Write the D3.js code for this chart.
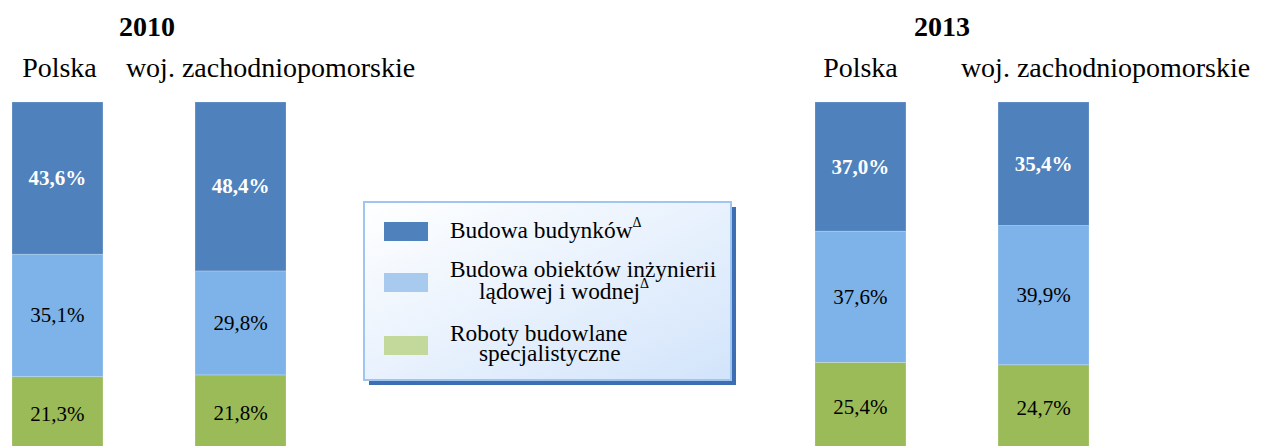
<!DOCTYPE html>
<html>
<head>
<meta charset="utf-8">
<script src="https://cdn.jsdelivr.net/npm/d3@7/dist/d3.min.js"></script>
<style>
  html, body { margin: 0; padding: 0; background: #ffffff; overflow: hidden; }
  svg { display: block; }
  svg text { font-family: "Liberation Serif", "Times New Roman", Times, serif; }
</style>
</head>
<body>
<svg id="chart" width="1261" height="446"></svg>
<script>
// Struktura produkcji budowlano-montażowej według działów (%)
const years = ["2010", "2013"];
const regions = ["Polska", "woj. zachodniopomorskie"];
const seriesNames = [
  "Budowa budynków",
  "Budowa obiektów inżynierii lądowej i wodnej",
  "Roboty budowlane specjalistyczne"
];
// values in order: 2010 Polska, 2010 woj., 2013 Polska, 2013 woj.
const budowaBudynkow = [43.6, 48.4, 37.0, 35.4];
const obiektyInzynierii = [35.1, 29.8, 37.6, 39.9];
const robotySpecjalistyczne = [21.3, 21.8, 25.4, 24.7];

const barColors = ["#4f81bd", "#7db3e8", "#9bbb59"];
const swatchColors = ["#4f81bd", "#a7caee", "#c3d99b"];

const svg = d3.select("#chart");

// rows for stacking
const rows = [];
years.forEach((yr, yi) => regions.forEach((r, ri) => {
  const i = yi * regions.length + ri;
  rows.push({
    year: yr, region: r,
    top: budowaBudynkow[i],
    mid: obiektyInzynierii[i],
    bottom: robotySpecjalistyczne[i]
  });
}));

const keys = ["bottom", "mid", "top"];
const keyColor = { top: barColors[0], mid: barColors[1], bottom: barColors[2] };
const stacked = d3.stack().keys(keys)(rows);

// scales
const xYear = d3.scalePoint().domain(years).range([12, 815]);
const xRegion = d3.scaleBand().domain(regions).range([0, 274]).paddingInner(0.503).paddingOuter(0);
const y = d3.scaleLinear().domain([0, 100]).range([451, 102]);

const barX = d => xYear(d.year) + xRegion(d.region);

// bars
stacked.forEach(layer => {
  const g = svg.append("g");
  g.selectAll("rect").data(layer).join("rect")
    .attr("x", d => barX(d.data))
    .attr("y", d => y(d[1]))
    .attr("width", xRegion.bandwidth())
    .attr("height", d => y(d[0]) - y(d[1]))
    .attr("fill", keyColor[layer.key])
    .attr("stroke", "rgba(255,255,255,0.25)")
    .attr("stroke-width", 0.8);

  g.selectAll("text").data(layer).join("text")
    .attr("x", d => barX(d.data) + xRegion.bandwidth() / 2)
    .attr("y", d => (y(d[0]) + y(d[1])) / 2)
    .attr("text-anchor", "middle")
    .attr("dominant-baseline", "central")
    .attr("font-size", 21)
    .attr("font-weight", layer.key === "top" ? "bold" : "normal")
    .attr("fill", layer.key === "top" ? "#ffffff" : "#000000")
    .text(d => d3.format(".1f")(d.data[layer.key]).replace(".", ",") + "%");
});

// year titles, centred over each pair of bars
const yearShift = { "2010": 0, "2013": -8 };
svg.selectAll("text.year").data(years).join("text")
  .attr("class", "year")
  .attr("x", d => xYear(d) + xRegion.range()[1] / 2 - 2 + yearShift[d])
  .attr("y", 36)
  .attr("text-anchor", "middle")
  .attr("font-size", 28)
  .attr("font-weight", "bold")
  .text(d => d);

// region headers
const headerShift = { "2010": [2, 30], "2013": [0, 62] };
rows.forEach(d => {
  const ri = regions.indexOf(d.region);
  svg.append("text")
    .attr("x", barX(d) + xRegion.bandwidth() / 2 + headerShift[d.year][ri])
    .attr("y", 77)
    .attr("text-anchor", "middle")
    .attr("font-size", 28)
    .text(d.region);
});

// legend
const defs = svg.append("defs");
const grad = defs.append("linearGradient").attr("id", "legendFill")
  .attr("x1", "0%").attr("y1", "0%").attr("x2", "100%").attr("y2", "100%");
grad.append("stop").attr("offset", "0%").attr("stop-color", "#ffffff");
grad.append("stop").attr("offset", "100%").attr("stop-color", "#d2e4fb");

const legend = svg.append("g").attr("transform", "translate(364,202)");
const lw = 367, lh = 178;
legend.append("rect").attr("x", 5).attr("y", 5).attr("width", lw).attr("height", lh).attr("fill", "#3d6db2");
legend.append("rect").attr("x", 0).attr("y", 0).attr("width", lw).attr("height", lh)
  .attr("fill", "url(#legendFill)").attr("stroke", "#9fc6f0").attr("stroke-width", 2);

// each entry is one text element; wrapped lines are tspans
const legendLines = [
  [{ t: "Budowa budynków", sup: true, x: 86, y: 36 }],
  [{ t: "Budowa obiektów inżynierii", sup: false, x: 86, y: 75 },
   { t: "lądowej i wodnej", sup: true, x: 115, y: 96.5 }],
  [{ t: "Roboty budowlane", sup: false, x: 86, y: 138.5 },
   { t: "specjalistyczne", sup: false, x: 115, y: 159 }]
];
const swatchY = [20, 71, 134];

seriesNames.forEach((name, i) => {
  legend.append("rect")
    .attr("x", 20).attr("y", swatchY[i])
    .attr("width", 44).attr("height", 19)
    .attr("fill", swatchColors[i]);
  const t = legend.append("text")
    .attr("font-size", 23.4)
    .attr("fill", "#000");
  legendLines[i].forEach(l => {
    t.append("tspan").attr("x", l.x).attr("y", l.y).text(l.t);
    if (l.sup) {
      t.append("tspan").attr("font-size", 14).attr("dy", -11).text("Δ");
    }
  });
});
</script>
</body>
</html>
